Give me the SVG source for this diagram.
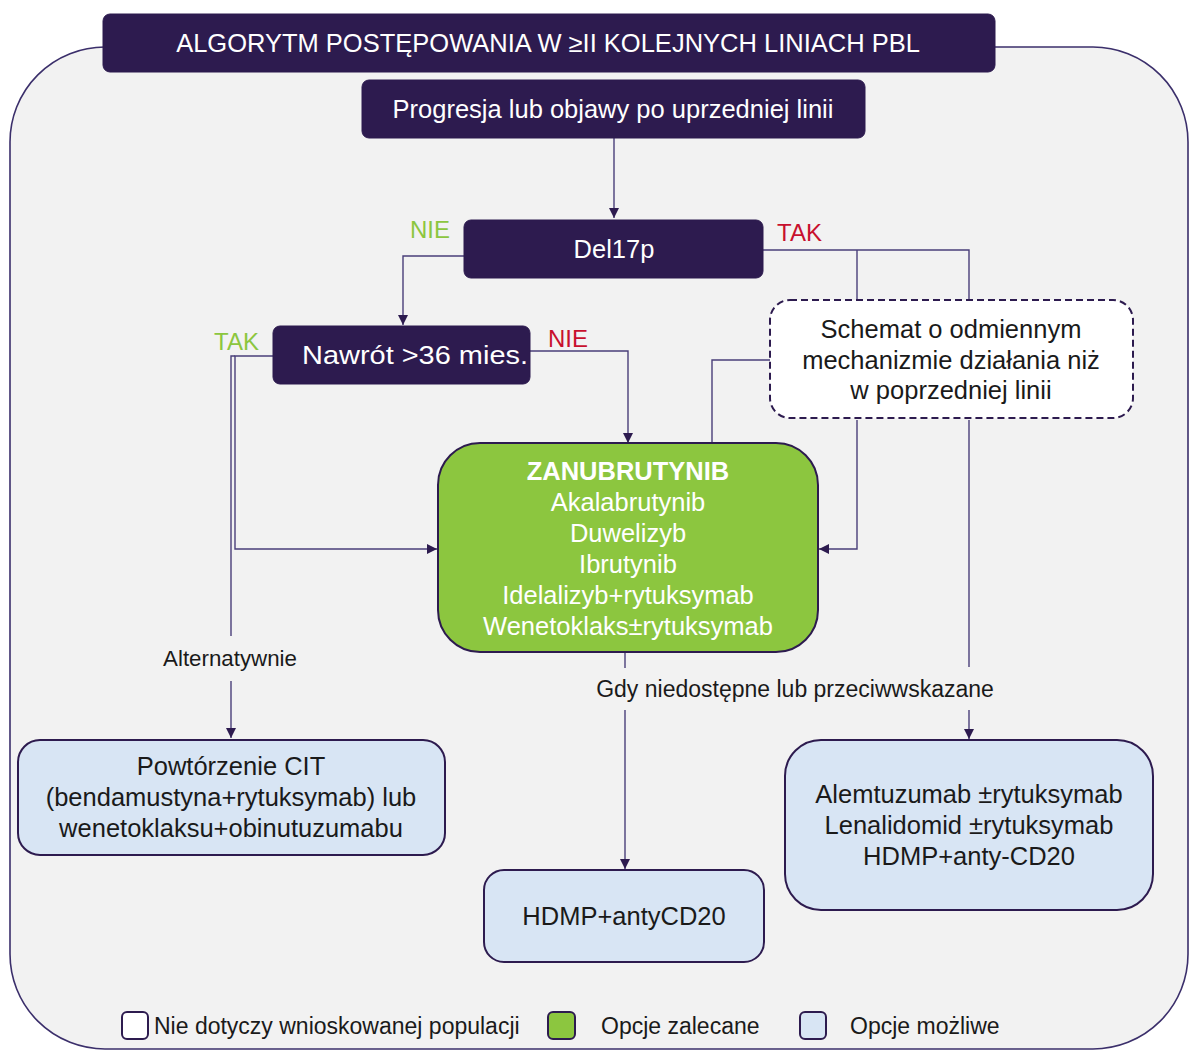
<svg xmlns="http://www.w3.org/2000/svg" width="1190" height="1051" viewBox="0 0 1190 1051">
<defs>
<style>
.t{font-family:"Liberation Sans",Arial,sans-serif;font-size:25.5px;text-anchor:middle}
.w{fill:#ffffff}
.k{fill:#1a1a1a}
.dk{fill:#2d1b4f;stroke:#2d1b4f;stroke-width:1}
.bl{fill:#d8e5f4;stroke:#2d1b4f;stroke-width:2}
.c{fill:none;stroke:#4a3f7a;stroke-width:1.4}
.g{fill:#8cc63f}
.r{fill:#c8102e}
</style>
<marker id="ah" viewBox="0 0 10 10" refX="10" refY="5" markerWidth="10" markerHeight="10" markerUnits="userSpaceOnUse" orient="auto">
<path d="M0,0 L10,5 L0,10 z" fill="#2d1b4f"/>
</marker>
</defs>
<rect id="frame" x="10" y="47" width="1178" height="1002" rx="95" fill="#f2f2f2" stroke="#3b2f6b" stroke-width="1.6"/>

<g id="connectors">
<path class="c" d="M614,138 V218" marker-end="url(#ah)"/>
<path class="c" d="M464,256 H403 V325" marker-end="url(#ah)"/>
<path class="c" d="M530,351 H628 V443" marker-end="url(#ah)"/>
<path class="c" d="M273,356 H235 V549 H437" marker-end="url(#ah)"/>
<path class="c" d="M235,356 H231 V636"/>
<path class="c" d="M231,681 V738" marker-end="url(#ah)"/>
<path class="c" d="M763,250 H969 V300"/>
<path class="c" d="M857,250 V300"/>
<path class="c" d="M770,360 H712 V443"/>
<path class="c" d="M857,420 V549 H819" marker-end="url(#ah)"/>
<path class="c" d="M969,420 V667"/>
<path class="c" d="M969,710 V739" marker-end="url(#ah)"/>
<path class="c" d="M625,652 V668"/>
<path class="c" d="M625,710 V869" marker-end="url(#ah)"/>
</g>

<g id="header">
<rect class="dk" x="103" y="14" width="892" height="58" rx="7"/>
<text class="t w" x="548" y="52">ALGORYTM POSTĘPOWANIA W ≥II KOLEJNYCH LINIACH PBL</text>
</g>
<g id="progresja">
<rect class="dk" x="362" y="80" width="503" height="58" rx="7"/>
<text class="t w" x="613" y="118">Progresja lub objawy po uprzedniej linii</text>
</g>
<g id="del17p">
<rect class="dk" x="464" y="220" width="299" height="58" rx="7"/>
<text class="t w" x="614" y="258">Del17p</text>
</g>
<g id="nawrot">
<rect class="dk" x="273" y="326" width="257" height="58" rx="7"/>
<text class="t w" x="415" y="364" font-size="24" textLength="226" lengthAdjust="spacingAndGlyphs">Nawrót &gt;36 mies.</text>
</g>
<g id="labels" font-family="Liberation Sans, Arial, sans-serif" font-size="24">
<text class="g" x="410" y="238">NIE</text>
<text class="r" x="777" y="241">TAK</text>
<text class="g" x="214" y="350">TAK</text>
<text class="r" x="548" y="347">NIE</text>
<text class="k" x="230" y="666" text-anchor="middle" font-size="22.3">Alternatywnie</text>
<text class="k" x="795" y="697" text-anchor="middle" font-size="23">Gdy niedostępne lub przeciwwskazane</text>
</g>
<g id="schemat">
<rect x="770" y="300" width="363" height="118" rx="20" fill="#ffffff" stroke="#2d1b4f" stroke-width="2" stroke-dasharray="7,4"/>
<text class="t k" x="951" y="338">Schemat o odmiennym</text>
<text class="t k" x="951" y="369">mechanizmie działania niż</text>
<text class="t k" x="951" y="399">w poprzedniej linii</text>
</g>
<g id="zalecane">
<rect x="438" y="443" width="380" height="209" rx="42" fill="#8cc63f" stroke="#2d1b4f" stroke-width="2"/>
<text class="t w" x="628" y="480" font-weight="bold">ZANUBRUTYNIB</text>
<text class="t w" x="628" y="511">Akalabrutynib</text>
<text class="t w" x="628" y="542">Duwelizyb</text>
<text class="t w" x="628" y="573">Ibrutynib</text>
<text class="t w" x="628" y="604">Idelalizyb+rytuksymab</text>
<text class="t w" x="628" y="635">Wenetoklaks±rytuksymab</text>
</g>
<g id="powtorzenie">
<rect class="bl" x="18" y="740" width="427" height="115" rx="22"/>
<text class="t k" x="231" y="775">Powtórzenie CIT</text>
<text class="t k" x="231" y="806">(bendamustyna+rytuksymab) lub</text>
<text class="t k" x="231" y="837">wenetoklaksu+obinutuzumabu</text>
</g>
<g id="hdmp">
<rect class="bl" x="484" y="870" width="280" height="92" rx="20"/>
<text class="t k" x="624" y="925">HDMP+antyCD20</text>
</g>
<g id="alemtuzumab">
<rect class="bl" x="785" y="740" width="368" height="170" rx="36"/>
<text class="t k" x="969" y="803">Alemtuzumab ±rytuksymab</text>
<text class="t k" x="969" y="834">Lenalidomid ±rytuksymab</text>
<text class="t k" x="969" y="865">HDMP+anty-CD20</text>
</g>
<g id="legend" font-family="Liberation Sans, Arial, sans-serif" font-size="23" fill="#1a1a1a">
<rect x="122" y="1012" width="26" height="27" rx="5" fill="#ffffff" stroke="#2d1b4f" stroke-width="2"/>
<text x="154" y="1034">Nie dotyczy wnioskowanej populacji</text>
<rect x="548" y="1012" width="27" height="27" rx="5" fill="#8cc63f" stroke="#2d1b4f" stroke-width="2"/>
<text x="601" y="1034">Opcje zalecane</text>
<rect x="800" y="1012" width="26" height="27" rx="5" fill="#d8e5f4" stroke="#2d1b4f" stroke-width="2"/>
<text x="850" y="1034">Opcje możliwe</text>
</g>
</svg>
